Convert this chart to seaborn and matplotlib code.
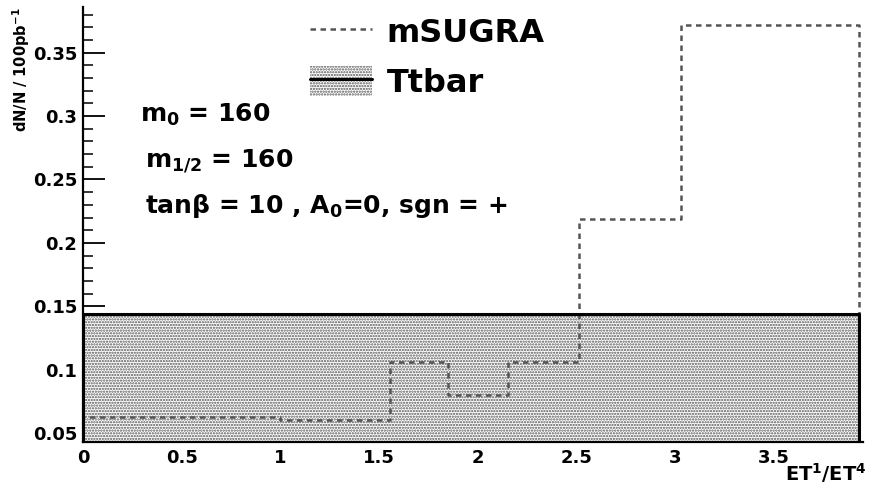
import matplotlib
matplotlib.use("Agg")
import matplotlib.pyplot as plt
import seaborn as sns
import numpy as np
from matplotlib.lines import Line2D
from matplotlib.patches import Patch
from matplotlib.legend_handler import HandlerTuple
from matplotlib.ticker import MultipleLocator, FixedLocator

# Normalised distributions of ET^1/ET^4
msugra_edges = [0.0, 1.0, 1.555, 1.85, 2.15, 2.51, 3.03, 3.93]
msugra_values = [0.0626, 0.0600, 0.1063, 0.0800, 0.1063, 0.2190, 0.3720]
ttbar_edges = [0.0, 3.93]
ttbar_values = [0.1437]

xticks = [0, 0.5, 1, 1.5, 2, 2.5, 3, 3.5]
xticklabels = ["0", "0.5", "1", "1.5", "2", "2.5", "3", "3.5"]
yticks = [0.05, 0.1, 0.15, 0.2, 0.25, 0.3, 0.35]
yticklabels = ["0.05", "0.1", "0.15", "0.2", "0.25", "0.3", "0.35"]

sns.set_theme(style="white")
plt.rcParams["font.family"] = ["DejaVu Sans"]
plt.rcParams["font.weight"] = "bold"
plt.rcParams["text.color"] = "black"
plt.rcParams["axes.labelcolor"] = "black"
plt.rcParams["xtick.color"] = "black"
plt.rcParams["ytick.color"] = "black"
plt.rcParams["mathtext.fontset"] = "custom"
plt.rcParams["mathtext.rm"] = "DejaVu Sans:bold"
plt.rcParams["mathtext.it"] = "DejaVu Sans:bold"
plt.rcParams["mathtext.bf"] = "DejaVu Sans:bold"
plt.rcParams["hatch.color"] = "#555555"
plt.rcParams["hatch.linewidth"] = 1.1

STIPPLE = "......"
STIPPLE_COLOR = "#555555"
DASH = (0, (2.2, 1.8))

fig = plt.figure(figsize=(8.7, 4.86), dpi=100)
ax = fig.add_axes([83 / 870, 1 - 442 / 486, 780 / 870, 435 / 486])

def lefts(edges):
    return np.asarray(edges[:-1]) + 1e-9

# Ttbar: stippled area
sns.histplot(x=lefts(ttbar_edges), weights=ttbar_values, bins=ttbar_edges,
             element="step", fill=True, color=STIPPLE_COLOR, facecolor="white",
             edgecolor=STIPPLE_COLOR, linewidth=0, hatch=STIPPLE, stat="count",
             ax=ax, zorder=1)

# mSUGRA: dashed outline
sns.histplot(x=lefts(msugra_edges), weights=msugra_values, bins=msugra_edges,
             element="step", fill=True, color="#555555", facecolor="none",
             edgecolor="#555555", linewidth=1.8, linestyle=DASH,
             stat="count", ax=ax, zorder=2)

# Ttbar: solid outline
sns.histplot(x=lefts(ttbar_edges), weights=ttbar_values, bins=ttbar_edges,
             element="step", fill=True, color="black", facecolor="none",
             edgecolor="black", linewidth=2.2, stat="count", ax=ax, zorder=3)

ax.set_xlim(0, 3.95)
ax.set_ylim(0.043, 0.386)

for s in ["top", "right"]:
    ax.spines[s].set_visible(False)
for s in ["left", "bottom"]:
    ax.spines[s].set_color("black")
    ax.spines[s].set_linewidth(1.6)
    ax.spines[s].set_zorder(5)

ax.xaxis.set_major_locator(FixedLocator(xticks))
ax.set_xticklabels(xticklabels, fontsize=13, fontweight="bold")
ax.yaxis.set_major_locator(FixedLocator(yticks))
ax.set_yticklabels(yticklabels, fontsize=13, fontweight="bold")
ax.xaxis.set_minor_locator(MultipleLocator(0.1))
ax.yaxis.set_minor_locator(MultipleLocator(0.01))
ax.tick_params(axis="y", which="major", direction="in", length=16, width=1.3,
               color="black", pad=4, left=True)
ax.tick_params(axis="y", which="minor", direction="in", length=7.5, width=1.1,
               color="black", left=True)
ax.tick_params(axis="x", which="major", direction="in", length=10, width=1.3,
               color="black", pad=5, bottom=True)
ax.tick_params(axis="x", which="minor", direction="in", length=5.5, width=1.1,
               color="black", bottom=True)

ax.set_ylabel("dN/N / 100pb$^{-1}$", fontsize=10.5, fontweight="bold", loc="top")
ax.yaxis.set_label_coords(-0.066, 1.0)
ax.set_xlabel("ET$^{1}$/ET$^{4}$", fontsize=14, fontweight="bold", loc="right")
ax.xaxis.set_label_coords(1.004, -0.045)
ax.grid(False)

# Model parameters
fig.text(140 / 870, 1 - 122 / 486, "m$_{0}$ = 160", fontsize=18, fontweight="bold",
         ha="left", va="baseline")
fig.text(145 / 870, 1 - 167 / 486, "m$_{1/2}$ = 160", fontsize=18, fontweight="bold",
         ha="left", va="baseline")
fig.text(145 / 870, 1 - 213 / 486, "tanβ = 10 , A$_{0}$=0, sgn = +", fontsize=18,
         fontweight="bold", ha="left", va="baseline")

# Legend
h_msugra = Line2D([], [], color="#555555", lw=1.8, linestyle=DASH)
h_ttbar_fill = Patch(facecolor="white", edgecolor=STIPPLE_COLOR, linewidth=0, hatch=STIPPLE)
h_ttbar_line = Line2D([], [], color="black", lw=2.2)
leg = fig.legend([h_msugra, (h_ttbar_fill, h_ttbar_line)], ["mSUGRA", "Ttbar"],
                 handler_map={tuple: HandlerTuple(ndivide=1, pad=0)},
                 loc="upper left", bbox_to_anchor=(310 / 870, 1 - 16 / 486),
                 frameon=False, prop={"size": 23, "weight": "bold"},
                 handlelength=1.95, handleheight=1.05, handletextpad=0.45,
                 labelspacing=0.55, borderpad=0.0, borderaxespad=0.0)

fig.savefig("out.png", dpi=100, facecolor="white")
